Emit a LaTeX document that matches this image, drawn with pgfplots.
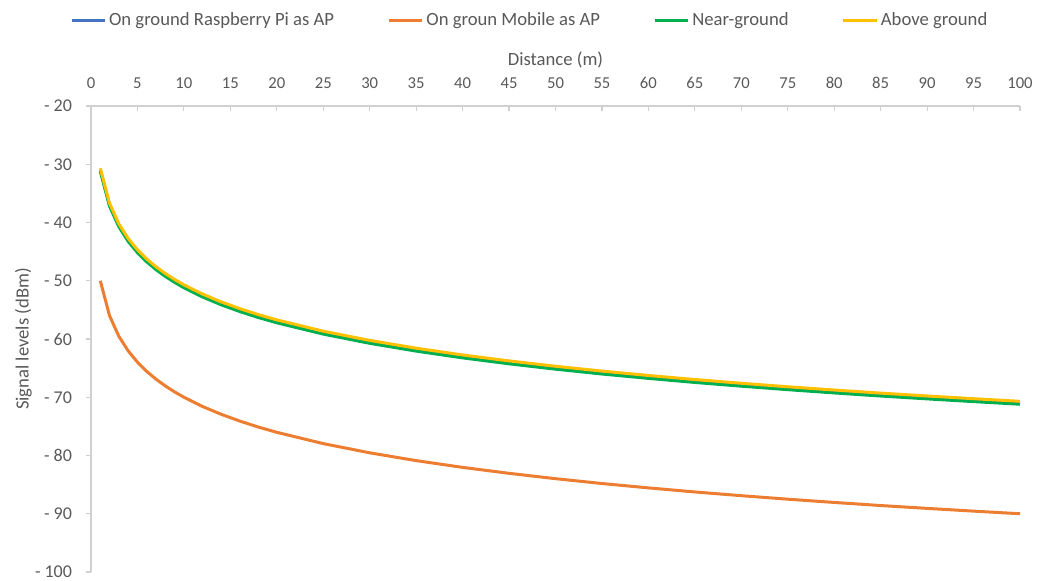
\documentclass[border=0pt]{standalone}
\usepackage{pgfplots}
\pgfplotsset{compat=1.18}
\usepackage{pgfplotstable}
\usepackage{fontspec}
\setmainfont{Carlito}
\definecolor{cblue}{HTML}{4472C4}
\definecolor{corange}{HTML}{ED7D31}
\definecolor{cgreen}{HTML}{00B050}
\definecolor{cyellow}{HTML}{FFC000}
\definecolor{axgray}{HTML}{D0D0D0}
\definecolor{txtgray}{HTML}{595959}
\pgfplotstableread{
d rpi mobile near above
1 -31.00 -50.00 -31.20 -30.70
2 -37.02 -56.02 -37.22 -36.72
3 -40.54 -59.54 -40.74 -40.24
4 -43.04 -62.04 -43.24 -42.74
5 -44.98 -63.98 -45.18 -44.68
6 -46.56 -65.56 -46.76 -46.26
7 -47.90 -66.90 -48.10 -47.60
8 -49.06 -68.06 -49.26 -48.76
9 -50.08 -69.08 -50.28 -49.78
10 -51.00 -70.00 -51.20 -50.70
12 -52.58 -71.58 -52.78 -52.28
14 -53.92 -72.92 -54.12 -53.62
16 -55.08 -74.08 -55.28 -54.78
18 -56.11 -75.11 -56.31 -55.81
20 -57.02 -76.02 -57.22 -56.72
25 -58.96 -77.96 -59.16 -58.66
30 -60.54 -79.54 -60.74 -60.24
35 -61.88 -80.88 -62.08 -61.58
40 -63.04 -82.04 -63.24 -62.74
45 -64.06 -83.06 -64.26 -63.76
50 -64.98 -83.98 -65.18 -64.68
55 -65.81 -84.81 -66.01 -65.51
60 -66.56 -85.56 -66.76 -66.26
65 -67.26 -86.26 -67.46 -66.96
70 -67.90 -86.90 -68.10 -67.60
75 -68.50 -87.50 -68.70 -68.20
80 -69.06 -88.06 -69.26 -68.76
85 -69.59 -88.59 -69.79 -69.29
90 -70.08 -89.08 -70.28 -69.78
95 -70.55 -89.55 -70.75 -70.25
100 -71.00 -90.00 -71.20 -70.70
}\datatable
\begin{document}
\begin{tikzpicture}
\path[use as bounding box] (-68.25pt,-6.75pt) rectangle (718.5pt,429pt);
\begin{axis}[
  at={(0,0)}, anchor=south west,
  scale only axis, width=696.75pt, height=349.5pt,
  xmin=0, xmax=100, ymin=-100, ymax=-20,
  axis x line*=top, axis y line*=left,
  axis line style={axgray, line width=0.9pt},
  xtick={0,5,...,100},
  ytick={-100,-90,...,-20},
  yticklabels={- 100,- 90,- 80,- 70,- 60,- 50,- 40,- 30,- 20},
  tick align=outside,
  major tick length=3.75pt,
  tick style={axgray, line width=0.9pt},
  xtick style={yshift=-3.75pt},
  /pgf/number format/assume math mode=true,
  x tick label style={font=\fontsize{12.5}{14}\selectfont, text=txtgray, yshift=5.5pt},
  y tick label style={font=\fontsize{13.5}{15}\selectfont, text=txtgray, xshift=-7pt},
  xlabel={Distance (m)},
  ylabel={Signal levels (dBm)},
  ylabel style={yshift=-4.5pt},
  label style={font=\fontsize{14}{16}\selectfont, text=txtgray},
  legend columns=4,
  legend style={draw=none, at={(0.4726,1.1845)}, anchor=center,
    font=\fontsize{14}{16}\selectfont, text=txtgray,
    /tikz/every even column/.append style={column sep=38pt}},
  legend image code/.code={\draw[#1, line width=2.25pt] (0pt,0pt) -- (25pt,0pt);},
  every axis plot/.append style={line width=2.25pt},
]
\addplot[cblue, no marks] table[x=d, y=rpi] {\datatable};
\addlegendentry{On ground Raspberry Pi as AP}
\addplot[corange, no marks] table[x=d, y=mobile] {\datatable};
\addlegendentry{On groun Mobile as AP}
\addplot[cgreen, no marks] table[x=d, y=near] {\datatable};
\addlegendentry{Near-ground}
\addplot[cyellow, no marks] table[x=d, y=above] {\datatable};
\addlegendentry{Above ground}
\end{axis}
\end{tikzpicture}
\end{document}
